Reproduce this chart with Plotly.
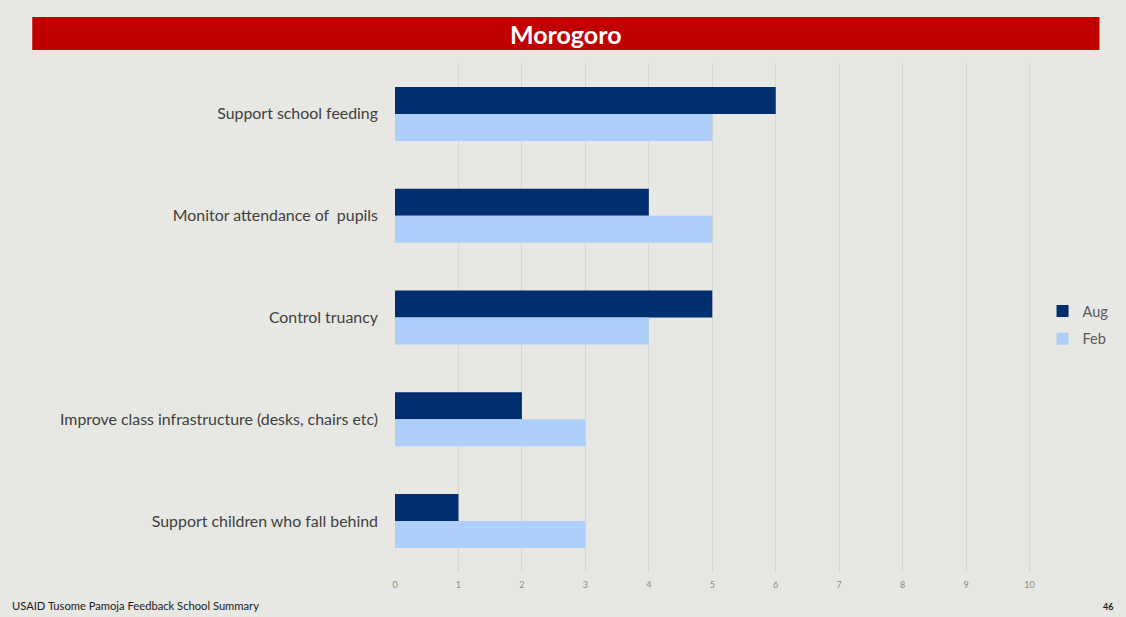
import plotly.graph_objects as go

# Survey responses per action, two rounds
categories = [
    "Support school feeding",
    "Monitor attendance of  pupils",
    "Control truancy",
    "Improve class infrastructure (desks, chairs etc)",
    "Support children who fall behind",
]
aug_values = [6, 4, 5, 2, 1]
feb_values = [5, 5, 4, 3, 3]
x_ticks = list(range(0, 11))

W, H = 1126, 617
L, R, T, B = 395, 32.5, 63, 45
pw = W - L - R
ph = H - T - B


def px_x(p):
    return (p - L) / pw


def px_y(p):
    return (H - B - p) / ph


fig = go.Figure()
fig.add_trace(go.Bar(
    y=categories, x=aug_values, name="Aug", orientation="h", legendgroup="aug",
    marker=dict(color="#002E6E", line=dict(width=0)),
))
fig.add_trace(go.Bar(
    y=categories, x=feb_values, name="Feb", orientation="h", legendgroup="feb",
    marker=dict(color="#ADCFFA", line=dict(width=0)),
))

bg = "#E7E7E3"
fig.update_layout(
    width=W, height=H,
    margin=dict(l=L, r=R, t=T, b=B, autoexpand=False),
    paper_bgcolor=bg, plot_bgcolor=bg,
    barmode="group", bargap=0.47, bargroupgap=0,
    font=dict(family="Lato, 'Open Sans', sans-serif", color="#404040"),
    xaxis=dict(
        range=[0, 11], tickvals=x_ticks, ticktext=[str(v) for v in x_ticks],
        showgrid=True, gridcolor="#D6D6D2", gridwidth=1,
        zeroline=False, showline=False,
        tickfont=dict(size=9, color="#8A8A8A"),
        ticks="", ticklabelstandoff=6, automargin=False,
    ),
    yaxis=dict(
        autorange="reversed", showgrid=False, zeroline=False, showline=False,
        tickfont=dict(size=15.9, color="#404040"), ticks="", ticklabelstandoff=16,
        automargin=False,
    ),
    legend=dict(
        x=px_x(1043), y=px_y(325), xanchor="left", yanchor="middle",
        bgcolor="rgba(0,0,0,0)", font=dict(size=14.5, color="#595959"),
        itemwidth=30, tracegroupgap=6,
    ),
    shapes=[
        dict(type="rect", xref="paper", yref="paper",
             x0=px_x(32), x1=px_x(1100), y0=px_y(50), y1=px_y(17),
             fillcolor="#C00000", line=dict(width=0), layer="above"),
    ],
    annotations=[
        dict(text="<b>Morogoro</b>", xref="paper", yref="paper",
             x=px_x(566), y=px_y(34), xanchor="center", yanchor="middle",
             showarrow=False, font=dict(size=25, color="white")),
        dict(text="USAID Tusome Pamoja Feedback School Summary", xref="paper", yref="paper",
             x=px_x(10), y=px_y(605), xanchor="left", yanchor="middle",
             showarrow=False, font=dict(size=11.2, color="#202020")),
        dict(text="<b>46</b>", xref="paper", yref="paper",
             x=px_x(1116), y=px_y(606), xanchor="right", yanchor="middle",
             showarrow=False, font=dict(size=9, color="#202020")),
    ],
)

fig.write_html("out.html")
